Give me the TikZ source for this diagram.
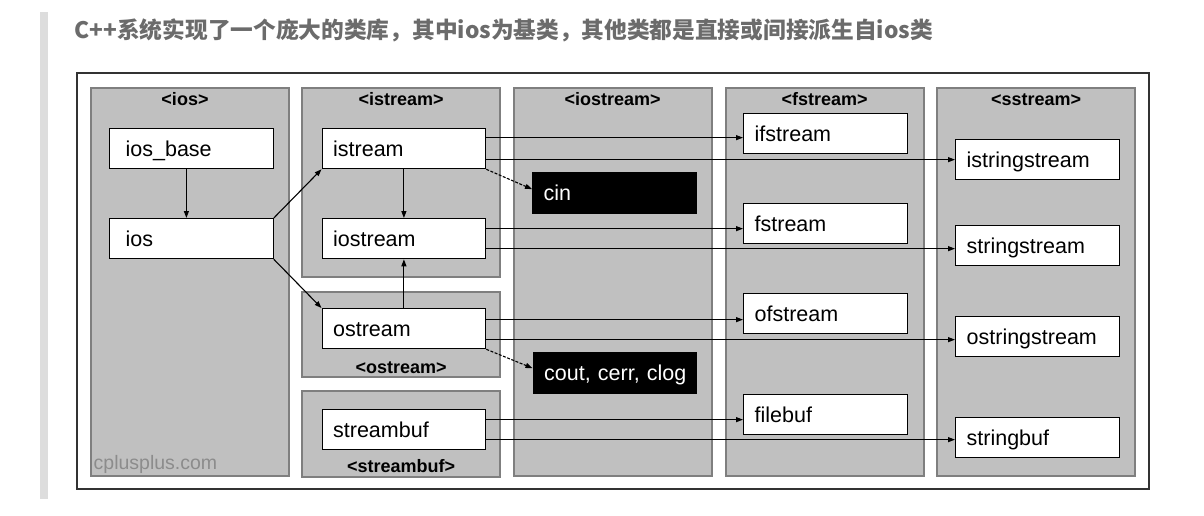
\documentclass[tikz,border=0pt]{standalone}
\usepackage{fontspec}
\setmainfont{Liberation Sans}
\newfontfamily\cjkfont{Noto Sans CJK SC}
\usetikzlibrary{arrows.meta}
\usetikzlibrary{calc}

\definecolor{panelgray}{HTML}{C0C0C0}
\definecolor{panelline}{HTML}{7F7F7F}
\definecolor{framegray}{HTML}{333333}
\definecolor{bargray}{HTML}{DDDDDD}
\definecolor{titlegray}{HTML}{6B6B6B}
\definecolor{sitegray}{HTML}{8C8C8C}

\tikzset{
  panel/.style={draw=panelline, line width=2pt, fill=panelgray},
  ptitle/.style={anchor=base, inner sep=0pt, font=\bfseries\fontsize{18}{20}\selectfont},
  cls/.style={draw=black, line width=1.3pt, fill=white, anchor=north west,
    minimum height=40pt, inner xsep=11pt, inner ysep=0pt, text width=141.5pt, align=left,
    text height=16pt, text depth=0pt, font=\fontsize{21.5}{24}\selectfont},
  basecls/.style={cls, inner xsep=16pt, text width=131.5pt},
  obj/.style={cls, fill=black, text=white, minimum height=41pt, text height=14pt},
  arr/.style={-{Triangle[length=7pt,width=5pt]}, line width=1.1pt},
  objarr/.style={arr, dash pattern=on 3pt off 1.5pt},
}

\begin{document}
\begin{tikzpicture}[x=1pt,y=1pt,yscale=-1,xscale=1]
\useasboundingbox (0,0) rectangle (1204,516);
\fill[white] (0,0) rectangle (1204,516);

%Shape: Rectangle [quote bar]
\fill[bargray] (40,12) rectangle (48,499);
% Text Node
\node[anchor=base west, inner sep=0pt, text=titlegray, font=\cjkfont\bfseries\fontsize{22.7}{26}\selectfont] (heading) at (74.3,38.3) {C++系统实现了一个庞大的类库，其中ios为基类，其他类都是直接或间接派生自ios类};

%Shape: Rectangle [frame]
\draw[draw=framegray, line width=2pt, fill=white] (77,73) rectangle (1149,489);

%Shape: Rectangle [headers]
\draw[panel] (90.7,87.7) rectangle (289,476);
\draw[panel] (302.3,87.7) rectangle (500.2,277);
\draw[panel] (302.3,291.7) rectangle (500.2,377);
\draw[panel] (302.3,390.7) rectangle (500.2,476.7);
\draw[panel] (513.6,87.7) rectangle (711.7,476);
\draw[panel] (725.6,87.7) rectangle (923.6,476);
\draw[panel] (937,87.7) rectangle (1135.4,476);

% Text Node
\node[ptitle] (hios) at (185,106) {<ios>};
\node[ptitle] (histream) at (401.2,106) {<istream>};
\node[ptitle] (hostream) at (401.2,373) {<ostream>};
\node[ptitle] (hstreambuf) at (401.2,472.5) {<streambuf>};
\node[ptitle] (hiostream) at (612.6,106) {<iostream>};
\node[ptitle] (hfstream) at (824.6,106) {<fstream>};
\node[ptitle] (hsstream) at (1036.2,106) {<sstream>};
\node[anchor=base west, inner sep=0pt, text=sitegray, font=\fontsize{19.5}{22}\selectfont] (site) at (93.5,469) {cplusplus.com};

% Text Node
\node[basecls] (iosbase) at (109,128) {ios\_base};
\node[basecls] (ios) at (109,218) {ios};
\node[cls] (istream) at (321.5,128) {istream};
\node[cls] (iostream) at (321.5,218) {iostream};
\node[cls] (ostream) at (321.5,308) {ostream};
\node[cls] (streambuf) at (321.5,409) {streambuf};
\node[obj] (cin) at (532,172) {cin};
\node[obj] (cout) at (532.5,352) {\mbox{cout, cerr, clog}};
\node[cls] (ifstream) at (743,113) {ifstream};
\node[cls] (fstream) at (743,203) {fstream};
\node[cls] (ofstream) at (743,293) {ofstream};
\node[cls] (filebuf) at (743,394) {filebuf};
\node[cls] (istringstream) at (955,139) {istringstream};
\node[cls] (stringstream) at (955,225) {stringstream};
\node[cls] (ostringstream) at (955,316) {ostringstream};
\node[cls] (stringbuf) at (955,417) {stringbuf};

% Connection
\draw[arr] ([xshift=-5pt]iosbase.south) -- ([xshift=-5pt]ios.north);
\draw[arr] (ios.north east) -- (istream.south west);
\draw[arr] (ios.south east) -- (ostream.north west);
\draw[arr] (istream.south) -- (iostream.north);
\draw[arr] (ostream.north) -- (iostream.south);
\draw[objarr] (istream.south east) -- ($(cin.west)+(0,-4)$);
\draw[objarr] (ostream.south east) -- ($(cout.west)+(0,-5)$);
% Connection
\draw[arr] ($(istream.east)+(0,-11)$) coordinate (p1) -- (ifstream.west |- p1);
\draw[arr] ($(istream.east)+(0,11)$) coordinate (p2) -- (istringstream.west |- p2);
\draw[arr] ($(iostream.east)+(0,-10)$) coordinate (p3) -- (fstream.west |- p3);
\draw[arr] ($(iostream.east)+(0,10)$) coordinate (p4) -- (stringstream.west |- p4);
\draw[arr] ($(ostream.east)+(0,-9)$) coordinate (p5) -- (ofstream.west |- p5);
\draw[arr] ($(ostream.east)+(0,11)$) coordinate (p6) -- (ostringstream.west |- p6);
\draw[arr] ($(streambuf.east)+(0,-10)$) coordinate (p7) -- (filebuf.west |- p7);
\draw[arr] ($(streambuf.east)+(0,10)$) coordinate (p8) -- (stringbuf.west |- p8);

\end{tikzpicture}
\end{document}
